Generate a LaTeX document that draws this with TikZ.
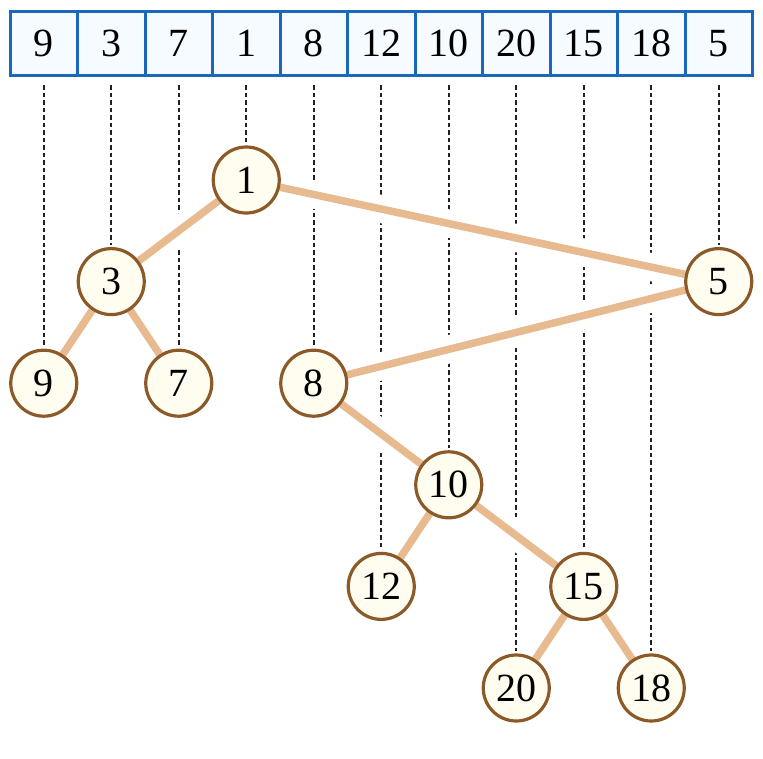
\documentclass[tikz,border=0pt]{standalone}
\usepackage{fontspec}
\setmainfont{Liberation Serif}
\definecolor{boxblue}{HTML}{1A68BE}
\definecolor{boxfill}{HTML}{F6FBFF}
\definecolor{nodebrown}{HTML}{8C5A28}
\definecolor{nodefill}{HTML}{FFFDF0}
\definecolor{edgetan}{HTML}{E8BA90}
\definecolor{dashgray}{HTML}{222222}
\pgfdeclarelayer{dashlayer}
\pgfdeclarelayer{halolayer}
\pgfdeclarelayer{edgelayer}
\pgfsetlayers{dashlayer,halolayer,edgelayer,main}
\tikzset{
  cell/.style={draw=boxblue, fill=boxfill, line width=3pt, minimum width=67.5pt,
    minimum height=64pt, inner sep=0pt, outer sep=0pt, font=\fontsize{40}{40}\selectfont},
  tnode/.style={circle, draw=nodebrown, fill=nodefill, line width=3.2pt, minimum size=66pt,
    inner sep=0pt, font=\fontsize{40}{40}\selectfont},
  dashline/.style={draw=dashgray, line width=2.2pt, dash pattern=on 4.5pt off 3pt,
    shorten <=9.5pt, shorten >=2pt},
  halo/.style={draw=white, line width=28pt},
  treeedge/.style={draw=edgetan, line width=7.5pt}
}
\begin{document}
\begin{tikzpicture}[x=1pt,y=-1pt]
\useasboundingbox (0,0) rectangle (763,758);
% array
\foreach \v [count=\i from 0] in {9,3,7,1,8,12,10,20,15,18,5}
  \node[cell] (c\i) at ({10+67.5*(\i+0.5)},43.5) {\v};
% tree nodes
\node[tnode] (n9)  at (43.75,383.2) {9};
\node[tnode] (n3)  at (111.25,281.6) {3};
\node[tnode] (n7)  at (178.75,383.2) {7};
\node[tnode] (n1)  at (246.25,180) {1};
\node[tnode] (n8)  at (313.75,383.2) {8};
\node[tnode] (n12) at (381.25,586.4) {12};
\node[tnode] (n10) at (448.75,484.8) {10};
\node[tnode] (n20) at (516.25,688) {20};
\node[tnode] (n15) at (583.75,586.4) {15};
\node[tnode] (n18) at (651.25,688) {18};
\node[tnode] (n5)  at (718.75,281.6) {5};
% dashed lines
\begin{pgfonlayer}{dashlayer}
\foreach \i/\v in {0/9,1/3,2/7,3/1,4/8,5/12,6/10,7/20,8/15,9/18,10/5}
  \draw[dashline] (c\i.south) -- (n\v.north);
\end{pgfonlayer}
% halos
\begin{pgfonlayer}{halolayer}
\foreach \a/\b in {1/3,1/5,3/9,3/7,5/8,8/10,10/12,10/15,15/20,15/18}
  \draw[halo] (n\a) -- (n\b);
\end{pgfonlayer}
% edges
\begin{pgfonlayer}{edgelayer}
\foreach \a/\b in {1/3,1/5,3/9,3/7,5/8,8/10,10/12,10/15,15/20,15/18}
  \draw[treeedge] (n\a) -- (n\b);
\end{pgfonlayer}
\end{tikzpicture}
\end{document}
